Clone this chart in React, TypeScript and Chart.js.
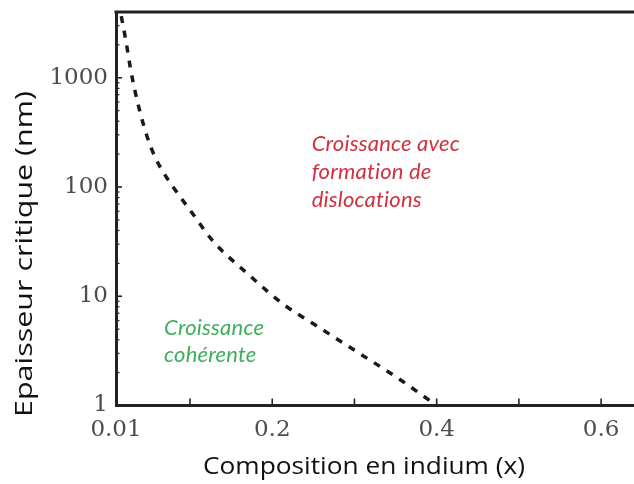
import React, { useEffect, useRef } from "react";
import { Chart, registerables } from "chart.js";

Chart.register(...registerables);

// Indium composition (x) and critical thickness (nm)
const indiumComposition = [0.013, 0.0226, 0.0274, 0.0332, 0.04, 0.0478, 0.0576, 0.0685, 0.0807, 0.104, 0.127, 0.172, 0.215, 0.25, 0.306, 0.351, 0.4];
const criticalThickness = [5000, 2060, 1240, 750, 462, 290, 187, 133, 97, 56, 32.6, 15.6, 8.3, 5.6, 3.0, 1.82, 1.0];

// Axis ticks
const xTickValues = [0.01, 0.1, 0.2, 0.3, 0.4, 0.5, 0.6];
const xTickLabels = ["0.01", "", "0.2", "", "0.4", "", "0.6"];
const yMajorTicks = [1, 10, 100, 1000];
const yMinorMultipliers = [2, 3, 4, 5, 6, 7, 8, 9];

const xMin = 0.01;
const xMax = 0.64;
const yMin = 1;
const yMax = 4000;

const xTitle = "Composition en indium (x)";
const yTitle = "Epaisseur critique (nm)";
const redNote = ["Croissance avec", "formation de", "dislocations"];
const greenNote = ["Croissance", "cohérente"];

const AXIS_COLOR = "#222222";
const LABEL_COLOR = "#4d4d4d";

function buildYTicks(): number[] {
  const out: number[] = [];
  for (const m of yMajorTicks) {
    out.push(m);
    for (const k of yMinorMultipliers) {
      const v = m * k;
      if (v <= yMax) out.push(v);
    }
  }
  return out.sort((a, b) => a - b);
}

function drawStretched(ctx: CanvasRenderingContext2D, text: string, cx: number, cy: number, targetWidth: number, rotation: number) {
  const w = ctx.measureText(text).width;
  const s = w > 0 ? targetWidth / w : 1;
  ctx.save();
  ctx.translate(cx, cy);
  ctx.rotate(rotation);
  ctx.scale(s, 1);
  ctx.textAlign = "center";
  ctx.textBaseline = "middle";
  ctx.fillText(text, 0, 0);
  ctx.restore();
}

const decorPlugin = {
  id: "decor",
  afterDraw(chart: any) {
    const { ctx, chartArea, scales } = chart;
    const xs = scales.x;
    const ys = scales.y;
    ctx.save();
    // inward tick marks
    ctx.strokeStyle = AXIS_COLOR;
    ctx.lineWidth = 1.6;
    for (const t of xs.ticks) {
      const px = xs.getPixelForValue(t.value);
      if (px <= chartArea.left + 3) continue;
      ctx.beginPath();
      ctx.moveTo(px, chartArea.bottom);
      ctx.lineTo(px, chartArea.bottom - 7);
      ctx.stroke();
    }
    for (const t of ys.ticks) {
      const py = ys.getPixelForValue(t.value);
      if (py >= chartArea.bottom - 2 || py <= chartArea.top + 2) continue;
      const major = yMajorTicks.includes(t.value);
      ctx.lineWidth = major ? 1.6 : 1.2;
      ctx.beginPath();
      ctx.moveTo(chartArea.left, py);
      ctx.lineTo(chartArea.left + (major ? 6 : 3.5), py);
      ctx.stroke();
    }
    // top frame line
    ctx.lineWidth = 3;
    ctx.beginPath();
    ctx.moveTo(chartArea.left - 1.5, chartArea.top);
    ctx.lineTo(chartArea.right, chartArea.top);
    ctx.stroke();

    // axis titles
    ctx.fillStyle = "#111111";
    ctx.font = "23px 'Open Sans'";
    drawStretched(ctx, xTitle, 364, 467, 322, 0);
    drawStretched(ctx, yTitle, 25, 254, 326, -Math.PI / 2);

    // region annotations, anchored in data coordinates
    ctx.textAlign = "left";
    ctx.textBaseline = "middle";
    ctx.font = "italic 22px Lato";
    try {
      (ctx as any).letterSpacing = "0.2px";
    } catch (e) {}
    ctx.fillStyle = "#d0313f";
    const rx = xs.getPixelForValue(0.248);
    const ry = ys.getPixelForValue(250);
    redNote.forEach((line, i) => ctx.fillText(line, rx, ry + i * 28));
    ctx.fillStyle = "#3fae5c";
    const gx = xs.getPixelForValue(0.0685);
    const gy = ys.getPixelForValue(5.1);
    greenNote.forEach((line, i) => ctx.fillText(line, gx, gy + i * 27));
    ctx.restore();
  },
};

export default function App() {
  const canvasRef = useRef<HTMLCanvasElement | null>(null);

  useEffect(() => {
    const canvas = canvasRef.current;
    if (!canvas) return;
    const points = indiumComposition.map((x, i) => ({ x, y: criticalThickness[i] }));
    const yTicks = buildYTicks();

    const chart = new Chart(canvas, {
      type: "line",
      data: {
        datasets: [
          {
            data: points,
            borderColor: "#1a1a1a",
            borderWidth: 3.5,
            borderDash: [7, 8],
            pointRadius: 0,
            fill: false,
            cubicInterpolationMode: "monotone",
            clip: 0,
          } as any,
        ],
      },
      options: {
        animation: false,
        responsive: false,
        layout: { padding: { top: 12, right: 0, left: 0, bottom: 0 } },
        plugins: {
          legend: { display: false },
          tooltip: { enabled: false },
        },
        scales: {
          x: {
            type: "linear",
            min: xMin,
            max: xMax,
            grid: { display: false, drawTicks: false },
            border: { display: true, color: AXIS_COLOR, width: 3 },
            afterBuildTicks: (scale: any) => {
              scale.ticks = xTickValues.map((v) => ({ value: v }));
            },
            afterFit: (scale: any) => {
              scale.height = 78.5;
              scale.paddingLeft = 0;
              scale.paddingRight = 0;
            },
            ticks: {
              autoSkip: false,
              maxRotation: 0,
              padding: 11,
              color: LABEL_COLOR,
              font: { family: "'DejaVu Serif'", size: 23 },
              callback: (value: any) => {
                const idx = xTickValues.findIndex((v) => Math.abs(v - Number(value)) < 1e-9);
                return idx >= 0 ? xTickLabels[idx] : "";
              },
            },
          },
          y: {
            type: "logarithmic",
            min: yMin,
            max: yMax,
            grid: { display: false, drawTicks: false },
            border: { display: true, color: AXIS_COLOR, width: 3 },
            afterBuildTicks: (scale: any) => {
              scale.ticks = yTicks.map((v) => ({ value: v }));
            },
            afterFit: (scale: any) => {
              scale.width = 116;
              scale.paddingTop = 0;
              scale.paddingBottom = 0;
            },
            ticks: {
              autoSkip: false,
              padding: 8,
              color: LABEL_COLOR,
              font: { family: "'DejaVu Serif'", size: 23 },
              callback: (value: any) => (yMajorTicks.includes(Number(value)) ? String(value) : ""),
            },
          },
        },
      },
      plugins: [decorPlugin],
    });
    return () => chart.destroy();
  }, []);

  return (
    <div style={{ position: "absolute", left: 0, top: 0, width: 634, height: 484, background: "#fff" }}>
      <canvas ref={canvasRef} width={634} height={484} />
    </div>
  );
}
